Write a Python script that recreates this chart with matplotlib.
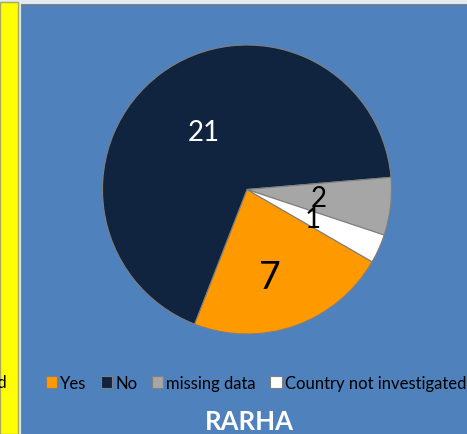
import numpy as np
import matplotlib
matplotlib.use("Agg")
import matplotlib.pyplot as plt
from matplotlib.patches import Rectangle

# ------------------------------------------------------------------
# data
# ------------------------------------------------------------------
categories = ["Yes", "No", "missing data", "Country not investigated"]
counts = [7, 21, 2, 1]
title = "RARHA"

slice_colors = ["#FF9900", "#10243F", "#A6A6A6", "#FFFFFF"]
label_colors = ["black", "white", "black", "black"]
label_sizes = [27, 20, 20, 20]
label_dist = [0.63, 0.5, 0.5, 0.5]
label_turn = [-4.5, 0, 0, 0]   # small angular nudge (deg) as Excel places them

W, H = 467, 435
plt.rcParams['font.family'] = ['Lato', 'DejaVu Sans']

fig = plt.figure(figsize=(W / 100, H / 100), dpi=100)
fig.patch.set_facecolor("#E4EAF2")

# yellow strip on the left (neighbouring chart) and the blue chart panel
fig.patches.append(Rectangle((0, 0), 17.5 / W, 432 / H, transform=fig.transFigure,
                             facecolor="#FFFF00", edgecolor="#A8A860", linewidth=1,
                             zorder=-10))
fig.patches.append(Rectangle((21 / W, -0.01), 1, 430.5 / H + 0.01, transform=fig.transFigure,
                             facecolor="#4F81BD", edgecolor="#8C8070", linewidth=0.8,
                             zorder=-10))
# cut-off legend text of the neighbouring chart
fig.text(7 / W, 1 - 383 / H, "investigated", ha="right", va="center",
         fontsize=12, color="black")

# pie
cx, cy, r = 247, 190.5, 144.5
ax = fig.add_axes([(cx - r) / W, 1 - (cy + r) / H, 2 * r / W, 2 * r / H])
ax.set_facecolor("none")
wedges, _ = ax.pie(counts, colors=slice_colors, startangle=-30, counterclock=False,
                   radius=1, wedgeprops=dict(edgecolor="#7F7F7F", linewidth=0.8))
for w, n, c, s, d, t in zip(wedges, counts, label_colors, label_sizes, label_dist, label_turn):
    ang = np.deg2rad((w.theta1 + w.theta2) / 2 + t)
    ax.text(d * np.cos(ang), d * np.sin(ang), str(n), ha="center", va="center",
            color=c, fontsize=s)
ax.set_xlim(-1, 1)
ax.set_ylim(-1, 1)
ax.set_aspect("equal")
ax.axis("off")

leg = fig.legend(wedges, categories, loc="center", bbox_to_anchor=(256 / W, 1 - 384 / H),
                 ncol=4, frameon=False, fontsize=12, handlelength=0.68, handleheight=0.68,
                 handletextpad=0.2, columnspacing=0.85, borderaxespad=0)

fig.text(249 / W, 1 - 422 / H, title, ha="center", va="center", color="white",
         fontsize=18.5, fontweight="bold")

fig.savefig("out.png", dpi=100, facecolor=fig.get_facecolor())
